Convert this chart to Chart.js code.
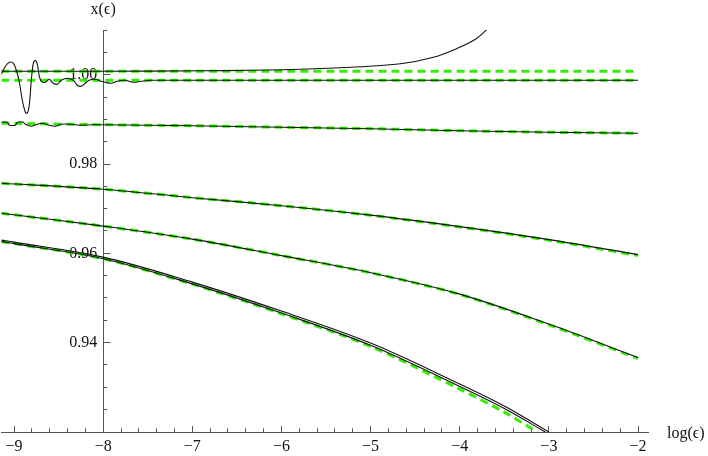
<!DOCTYPE html>
<html>
<head>
<meta charset="UTF-8">
<title>x(ϵ) vs log(ϵ)</title>
<script src="https://cdn.jsdelivr.net/npm/chart.js"></script>
<style>
  body { margin: 0; background: #fff; }
  canvas { display: block; }
</style>
</head>
<body>
<canvas id="plot" width="708" height="456"></canvas>
<script>
// tick labels
const xMajor = [-9, -8, -7, -6, -5, -4, -3, -2];
const yMajor = [0.94, 0.96, 0.98, 1.00];

// top curve (black departs upward, green stays flat)
const aGreenX = [-9.142, -2];
const aGreenY = [1.00076, 1.00076];
const aBlackX = [-9.142, -8.022, -6.903, -6.343, -5.783, -5.224, -4.664, -4.295, -4.026, -3.824, -3.701];
const aBlackY = [1.00076, 1.00076, 1.00087, 1.00098, 1.0012, 1.00165, 1.00243, 1.0039, 1.0059, 1.00792, 1.0100];

// second curve, noisy at small epsilon
const bGreenX = [-9.142, -2];
const bGreenY = [0.99875, 0.99875];
const bBlackX = [-9.142, -9.097, -9.052, -9.008, -8.974, -8.940, -8.907, -8.873, -8.851, -8.828, -8.806, -8.784, -8.761, -8.739, -8.716, -8.694, -8.649, -8.605, -8.560, -8.515, -8.470, -8.403, -8.336, -8.291, -8.246, -8.202, -8.157, -8.090, -8.022, -7.978, -7.910, -7.843, -7.754, -7.664, -7.575, -7.463, -7.351, -6.903, -2];
const bBlackY = [1.00009, 1.00188, 1.00277, 1.00255, 1.00098, 0.99830, 0.99427, 0.99159, 0.99136, 0.99338, 0.99875, 1.00255, 1.00322, 1.00233, 0.99964, 0.99852, 0.99830, 0.99897, 0.99808, 0.99785, 0.99875, 0.99919, 0.99875, 0.99763, 0.99740, 0.99808, 0.99875, 0.99897, 0.99852, 0.99830, 0.99808, 0.99852, 0.99875, 0.99830, 0.99852, 0.99875, 0.99875, 0.99875, 0.99875];

// third curve
const cGreenX = [-9.142, -8, -7, -6, -5, -4, -3, -2];
const cGreenY = [0.98913, 0.98879, 0.98857, 0.98823, 0.98790, 0.98745, 0.98711, 0.98689];
const cBlackX = [-9.142, -9.075, -9.052, -8.985, -8.963, -8.896, -8.873, -8.806, -8.739, -8.672, -8.605, -8.537, -8.470, -8.358, -8.246, -8.134, -8, -7, -6, -5, -4, -3, -2];
const cBlackY = [0.98935, 0.98935, 0.98868, 0.98868, 0.98935, 0.98935, 0.98890, 0.98846, 0.98890, 0.98913, 0.98868, 0.98846, 0.98890, 0.98890, 0.98868, 0.98879, 0.98879, 0.98857, 0.98823, 0.98790, 0.98745, 0.98711, 0.98689];

// fourth and fifth curves
const dX = [-9.142, -8, -7, -6, -5, -4, -3, -2];
const dBlackY = [0.97570, 0.97436, 0.97246, 0.97067, 0.96855, 0.96597, 0.96307, 0.95971];
const dGreenY = [0.97570, 0.97436, 0.97246, 0.97067, 0.96852, 0.96590, 0.96295, 0.95950];
const eX = [-9.142, -8, -7, -6, -5, -4, -3, -2];
const eBlackY = [0.96899, 0.96609, 0.96318, 0.95949, 0.95568, 0.95087, 0.94416, 0.93667];
const eGreenY = [0.96899, 0.96609, 0.96318, 0.95949, 0.95565, 0.95080, 0.94400, 0.93645];

// bottom curve: two close black solutions and the green approximation
const f1X = [-9.142, -9, -8, -7, -6, -5, -4, -3.5, -3.0];
const f1Y = [0.96295, 0.96251, 0.95915, 0.95356, 0.94707, 0.93991, 0.93074, 0.92582, 0.92];
const f2X = [-9.142, -9, -8, -7, -6, -5, -4, -3.5, -3.04];
const f2Y = [0.96262, 0.96218, 0.95880, 0.95316, 0.94662, 0.93940, 0.93018, 0.92526, 0.92];
const fGreenX = [-9.142, -9, -8, -7, -6, -5, -4, -3.5, -3.13];
const fGreenY = [0.96262, 0.96218, 0.95880, 0.95310, 0.94648, 0.93915, 0.92962, 0.92445, 0.92];

const pts = (xs, ys) => xs.map((x, i) => ({x: x, y: ys[i]}));

const GREEN = 'rgb(51,238,0)';
const BLACK = '#111';
const AXIS = '#555';

function green(xs, ys) {
  return { data: pts(xs, ys), borderColor: GREEN, borderWidth: 3, borderDash: [8, 5],
           pointRadius: 0, tension: 0.3, order: 2 };
}
function black(xs, ys, t) {
  return { data: pts(xs, ys), borderColor: BLACK, borderWidth: 1.1,
           pointRadius: 0, tension: t === undefined ? 0.35 : t, order: 1 };
}

function fixedTicks(values) {
  return function (scale) { scale.ticks = values.map(v => ({value: v})); };
}
const xMinor = [];
for (let i = 0; i <= 35; i++) xMinor.push(-9 + i * 0.2);
const yMinor = [];
for (let i = 0; i <= 18; i++) yMinor.push(0.92 + i * 0.005);

const X_MIN = -9.142, X_MAX = -1.888, Y_MIN = 0.92, Y_MAX = 1.01;
const AT_Y = {y: Y_MIN};
const AT_X = {x: -8};

const axisTitles = {
  id: 'axisTitles',
  afterDraw(chart) {
    const ctx = chart.ctx;
    const xs = chart.scales.x, ys = chart.scales.y;
    ctx.save();
    ctx.fillStyle = '#111';
    ctx.font = '16px "Liberation Serif", "DejaVu Serif", serif';
    ctx.textBaseline = 'middle';
    ctx.textAlign = 'center';
    ctx.fillText('x(ϵ)', xs.getPixelForValue(-8), ys.top - 20);
    ctx.textAlign = 'left';
    ctx.fillText('log(ϵ)', xs.right + 19, ys.bottom + 2);
    ctx.restore();
  }
};

new Chart(document.getElementById('plot'), {
  type: 'line',
  data: {
    datasets: [
      black(aBlackX, aBlackY), green(aGreenX, aGreenY),
      black(bBlackX, bBlackY, 0.3), green(bGreenX, bGreenY),
      black(cBlackX, cBlackY, 0.2), green(cGreenX, cGreenY),
      black(dX, dBlackY), green(dX, dGreenY),
      black(eX, eBlackY), green(eX, eGreenY),
      black(f1X, f1Y), black(f2X, f2Y), green(fGreenX, fGreenY)
    ]
  },
  options: {
    responsive: false,
    devicePixelRatio: 1,
    animation: false,
    layout: { padding: { left: 0, right: 60, top: 30, bottom: 24 } },
    plugins: { legend: { display: false }, tooltip: { enabled: false } },
    scales: {
      x: {
        type: 'linear', axis: 'x', position: AT_Y, min: X_MIN, max: X_MAX,
        afterBuildTicks: fixedTicks(xMajor),
        grid: { drawOnChartArea: false, tickLength: -7, tickColor: AXIS, tickWidth: 1 },
        border: { display: true, color: AXIS, width: 1 },
        ticks: { display: false, autoSkip: false }
      },
      xMinor: {
        type: 'linear', axis: 'x', position: AT_Y, min: X_MIN, max: X_MAX,
        afterBuildTicks: fixedTicks(xMinor),
        grid: { drawOnChartArea: false, tickLength: -3.7, tickColor: AXIS, tickWidth: 1 },
        border: { display: false },
        ticks: { display: false, autoSkip: false }
      },
      xLab: {
        type: 'linear', axis: 'x', position: AT_Y, min: X_MIN, max: X_MAX,
        afterBuildTicks: fixedTicks(xMajor),
        grid: { display: false, drawTicks: false },
        border: { display: false },
        ticks: {
          autoSkip: false, maxRotation: 0, padding: 5.5, color: '#111',
          font: { family: '"Liberation Serif", serif', size: 16 },
          callback: v => String(v).replace('-', '\u2212')
        }
      },
      y: {
        type: 'linear', axis: 'y', position: AT_X, min: Y_MIN, max: Y_MAX,
        afterBuildTicks: fixedTicks(yMajor),
        grid: { drawOnChartArea: false, tickLength: -7.5, tickColor: AXIS, tickWidth: 1 },
        border: { display: true, color: AXIS, width: 1 },
        ticks: { display: false, autoSkip: false }
      },
      yMinor: {
        type: 'linear', axis: 'y', position: AT_X, min: Y_MIN, max: Y_MAX,
        afterBuildTicks: fixedTicks(yMinor),
        grid: { drawOnChartArea: false, tickLength: -4.2, tickColor: AXIS, tickWidth: 1 },
        border: { display: false },
        ticks: { display: false, autoSkip: false }
      },
      yLab: {
        type: 'linear', axis: 'y', position: {x: -8.067}, min: Y_MIN, max: Y_MAX,
        afterBuildTicks: fixedTicks(yMajor),
        grid: { display: false, drawTicks: false },
        border: { display: false },
        ticks: {
          autoSkip: false, padding: 0, color: '#111',
          font: { family: '"Liberation Serif", serif', size: 16 },
          callback: v => v.toFixed(2)
        }
      }
    }
  },
  plugins: [axisTitles]
});
</script>
</body>
</html>
